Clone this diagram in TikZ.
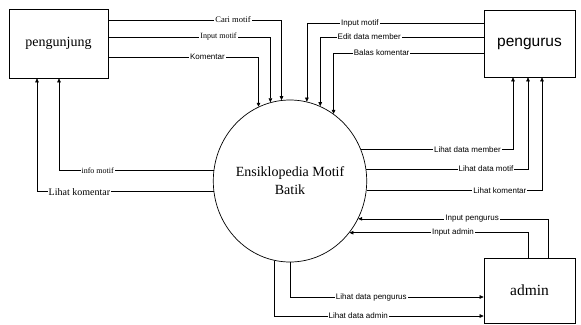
\documentclass[tikz,border=0pt]{standalone}
\usepackage{fontspec}
\setmainfont{Liberation Serif}
\setsansfont{Liberation Sans}
\usetikzlibrary{arrows.meta,shapes.geometric}

\begin{document}
\begin{tikzpicture}[
    x=1pt, y=-1pt,
    ent/.style={rectangle, draw=black, line width=0.7pt, inner sep=0pt,
                minimum width=#1, minimum height=67pt, align=center},
    proc/.style={ellipse, draw=black, line width=0.7pt, inner sep=0pt,
                 minimum width=134pt, minimum height=162pt, align=center,
                 font=\fontsize{14}{18}\selectfont\rmfamily},
    flow/.style={-{Triangle[length=4pt,width=3.6pt]}, line width=0.6pt, color=black},
    lbl/.style={fill=white, inner sep=1pt, font=\fontsize{#1}{9}\selectfont\rmfamily},
    lbl/.default=8,
    lbls/.style={fill=white, inner sep=1pt, font=\fontsize{8}{9}\selectfont\sffamily}
  ]
\useasboundingbox (0,0) rectangle (581,324);

% ---------------- entities ----------------
\node[ent=99pt, minimum height=69pt, font=\fontsize{14}{16}\selectfont\rmfamily]
  (pengunjung) at (58.5,43.5) {pengunjung};
\node[ent=91pt, font=\fontsize{15.5}{17}\selectfont\sffamily]
  (pengurus) at (529.5,43.5) {pengurus};
\node[ent=91pt, minimum height=65pt, font=\fontsize{15.5}{17}\selectfont\rmfamily]
  (admin) at (529.5,290.5) {admin};

% ---------------- process ----------------
\node[proc] (ens) at (290,181) {Ensiklopedia Motif\\Batik};

% ---------------- pengunjung -> sistem ----------------
\draw[flow] (pengunjung.east |- 0,20) -| node[lbl=8.5, pos=0.36] {Cari motif} (ens.96);
\draw[flow] (pengunjung.east |- 0,37) -| node[lbl, pos=0.34] {Input motif} (ens.104);
\draw[flow] (pengunjung.east |- 0,57) -| node[lbls, pos=0.33] {Komentar} (ens.113);

% ---------------- sistem -> pengunjung ----------------
\draw[flow] (ens.172) -| node[lbl, pos=0.375] {info motif} (pengunjung.south -| 59,0);
\draw[flow] (ens.188) -| node[lbl=10, pos=0.38] {Lihat komentar} (pengunjung.south -| 37,0);

% ---------------- pengurus -> sistem ----------------
\foreach \yy/\aa/\pp/\txt in {23/78/0.35/Input motif, 37/68/0.35/Edit data member,
                              53/57/0.34/Balas komentar}
  \draw[flow] (pengurus.west |- 0,\yy) -| node[lbls, pos=\pp] {\txt} (ens.\aa);

% ---------------- sistem -> pengurus ----------------
\foreach \aa/\xx/\pp/\txt in {24/513/0.35/Lihat data member, 9/528/0.37/Lihat data motif,
                              353/542/0.38/Lihat komentar}
  \draw[flow] (ens.\aa) -| node[lbls, pos=\pp] {\txt} (pengurus.south -| \xx,0);

% ---------------- admin <-> sistem ----------------
\draw[flow] (admin.north -| 548,0) |- node[lbls, pos=0.70] {Input pengurus} (ens.331);
\draw[flow] (admin.north -| 528,0) |- node[lbls, pos=0.71] {Input admin} (ens.319);
\draw[flow] (ens.270) |- node[lbls, pos=0.71] {Lihat data pengurus} (admin.west |- 0,297);
\draw[flow] (ens.259) |- node[lbls, pos=0.70] {Lihat data admin} (admin.west |- 0,316);

\end{tikzpicture}
\end{document}
